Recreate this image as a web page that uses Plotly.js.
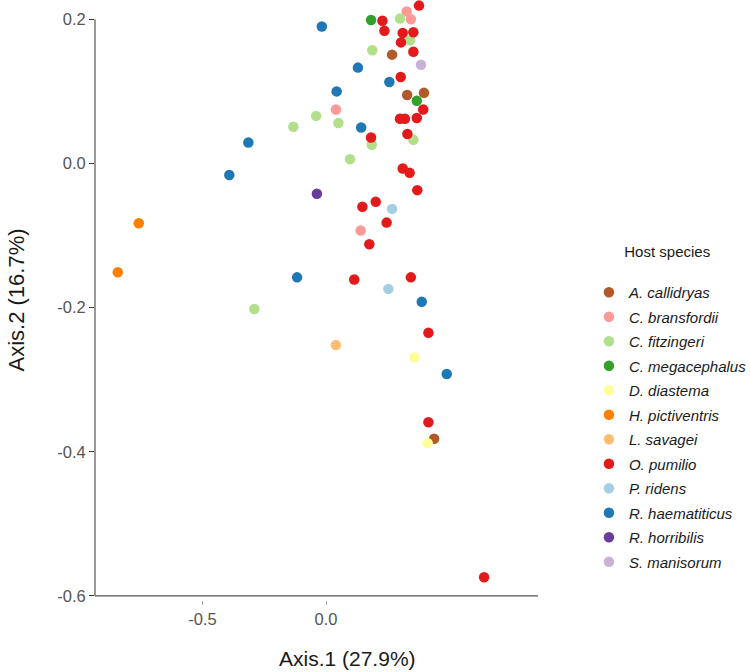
<!DOCTYPE html>
<html>
<head>
<meta charset="utf-8">
<script src="https://cdn.plot.ly/plotly-3.0.1.min.js"></script>
<style>html,body{margin:0;padding:0;background:#fff;}#chart{width:750px;height:672px;}</style>
</head>
<body>
<div id="chart"></div>
<script>
// Host species (legend order) and Paired palette colours
const species = ["A. callidryas","C. bransfordii","C. fitzingeri","C. megacephalus","D. diastema","H. pictiventris","L. savagei","O. pumilio","P. ridens","R. haematiticus","R. horribilis","S. manisorum"];
const colors = ["#B15928","#FB9A99","#B2DF8A","#33A02C","#FFFF99","#FF7F00","#FDBF6F","#E31A1C","#A6CEE3","#1F78B4","#6A3D9A","#CAB2D6"];

// Axis.1 / Axis.2 coordinates per species
const aCallidryasX = [0.267, 0.328, 0.396, 0.437];
const aCallidryasY = [0.151, 0.095, 0.098, -0.382];
const cBransfordiiX = [0.326, 0.343, 0.040, 0.140];
const cBransfordiiY = [0.211, 0.200, 0.075, -0.093];
const cFitzingeriX = [0.299, 0.340, 0.187, -0.040, 0.050, -0.132, 0.185, 0.353, 0.097, -0.290];
const cFitzingeriY = [0.201, 0.171, 0.157, 0.066, 0.056, 0.051, 0.026, 0.033, 0.006, -0.202];
const cMegacephalusX = [0.182, 0.367];
const cMegacephalusY = [0.199, 0.087];
const dDiastemaX = [0.357, 0.411];
const dDiastemaY = [-0.269, -0.388];
const hPictiventrisX = [-0.757, -0.842];
const hPictiventrisY = [-0.083, -0.151];
const lSavageiX = [0.040];
const lSavageiY = [-0.252];
const oPumilioX = [0.376, 0.228, 0.236, 0.310, 0.353, 0.303, 0.353, 0.302, 0.393, 0.299, 0.319, 0.367, 0.182, 0.329, 0.310, 0.338, 0.369, 0.147, 0.201, 0.245, 0.175, 0.114, 0.343, 0.414, 0.414, 0.639];
const oPumilioY = [0.219, 0.198, 0.184, 0.181, 0.182, 0.168, 0.155, 0.120, 0.075, 0.062, 0.062, 0.063, 0.036, 0.041, -0.007, -0.013, -0.037, -0.060, -0.053, -0.082, -0.112, -0.161, -0.158, -0.235, -0.359, -0.574];
const pRidensX = [0.267, 0.252];
const pRidensY = [-0.063, -0.174];
const rHaematiticusX = [-0.017, 0.129, 0.256, 0.043, 0.142, -0.314, -0.391, -0.117, 0.387, 0.488];
const rHaematiticusY = [0.190, 0.133, 0.113, 0.100, 0.050, 0.029, -0.016, -0.158, -0.192, -0.292];
const rHorribilisX = [-0.037];
const rHorribilisY = [-0.042];
const sManisorumX = [0.384];
const sManisorumY = [0.137];

const seriesX = [aCallidryasX, cBransfordiiX, cFitzingeriX, cMegacephalusX, dDiastemaX, hPictiventrisX, lSavageiX, oPumilioX, pRidensX, rHaematiticusX, rHorribilisX, sManisorumX];
const seriesY = [aCallidryasY, cBransfordiiY, cFitzingeriY, cMegacephalusY, dDiastemaY, hPictiventrisY, lSavageiY, oPumilioY, pRidensY, rHaematiticusY, rHorribilisY, sManisorumY];

// Tick labels
const xTickVals = [-0.5, 0.0];
const xTickText = ["-0.5", "0.0"];
const yTickVals = [0.2, 0.0, -0.2, -0.4, -0.6];
const yTickText = ["0.2", "0.0", "-0.2", "-0.4", "-0.6"];

const xTitle = "Axis.1 (27.9%)";
const yTitle = "Axis.2 (16.7%)";

const FONT = "Liberation Sans, Arial, Helvetica, sans-serif";
const NB = "\u00a0";

const traces = species.map((name, i) => ({
  type: "scatter",
  mode: "markers",
  name: "<i>" + name + "</i>",
  legendgroup: name,
  x: seriesX[i],
  y: seriesY[i],
  marker: {color: colors[i], size: 10.5, line: {width: 0}},
  cliponaxis: false,
  hoverinfo: "x+y+name"
}));

const yMin = yTickVals[yTickVals.length - 1];
const yMax = yTickVals[0];

const layout = {
  width: 750,
  height: 672,
  margin: {l: 95, r: 212, t: 0, b: 72, autoexpand: false},
  paper_bgcolor: "#ffffff",
  plot_bgcolor: "#ffffff",
  font: {family: FONT, color: "#1a1a1a"},
  showlegend: true,
  xaxis: {
    range: [-0.934, 0.857],
    tickvals: xTickVals,
    ticktext: xTickText,
    ticks: "outside",
    ticklen: 4,
    tickwidth: 1,
    tickcolor: "#aaaaaa",
    tickfont: {family: FONT, size: 16.5, color: "#555555"},
    showgrid: false,
    zeroline: false,
    showline: false
  },
  yaxis: {
    range: [-0.6056, 0.2268],
    tickvals: yTickVals,
    ticktext: yTickText,
    ticks: "outside",
    ticklen: 5,
    tickwidth: 1,
    tickcolor: "#333333",
    tickfont: {family: FONT, size: 16.5, color: "#555555"},
    showgrid: false,
    zeroline: false,
    showline: false,
    title: {text: yTitle, font: {family: FONT, size: 22, color: "#1a1a1a"}, standoff: 26}
  },
  annotations: [
    {text: xTitle, xref: "paper", yref: "paper", x: 0.571, y: -0.098, xanchor: "center", yanchor: "middle",
     showarrow: false, font: {family: FONT, size: 21, color: "#1a1a1a"}}
  ],
  shapes: [
    {type: "line", xref: "paper", yref: "y", x0: 0, x1: 0, y0: yMax, y1: yMin, line: {color: "#555555", width: 1.2}},
    {type: "line", xref: "paper", yref: "y", x0: 0, x1: 1, y0: yMin, y1: yMin, line: {color: "#555555", width: 1.2}}
  ],
  legend: {
    x: 1.115,
    xanchor: "left",
    y: 0.605,
    yanchor: "top",
    bgcolor: "rgba(0,0,0,0)",
    tracegroupgap: 2,
    font: {family: FONT, size: 15, color: "#1a1a1a"},
    title: {text: NB.repeat(8) + "Host species<br>" + NB, font: {family: FONT, size: 15, color: "#1a1a1a"}}
  }
};

Plotly.newPlot("chart", traces, layout, {displayModeBar: false});
</script>
</body>
</html>
